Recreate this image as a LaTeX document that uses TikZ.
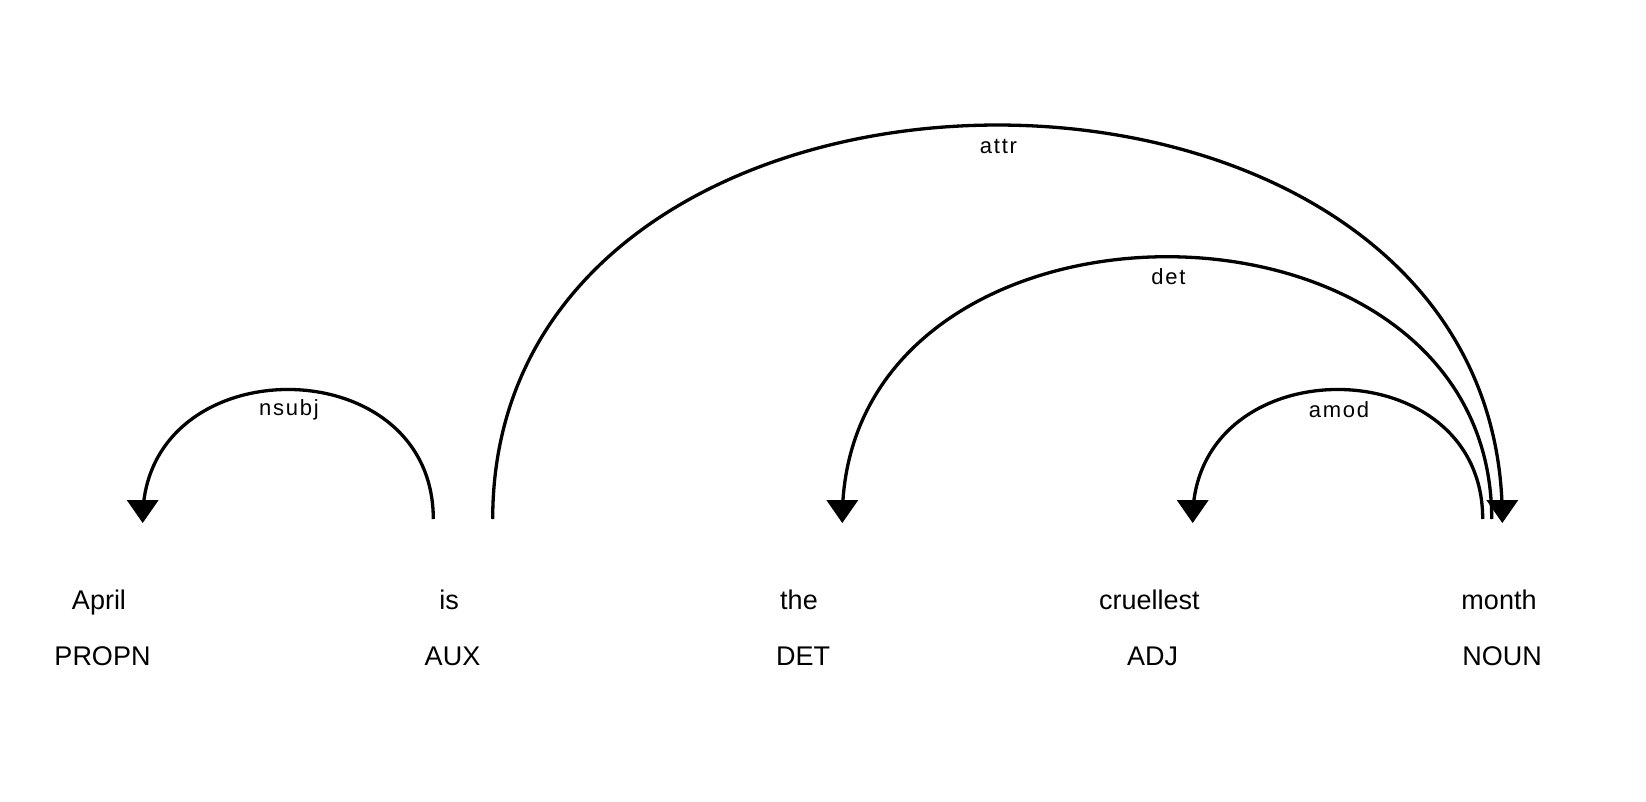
\documentclass[tikz,border=0pt]{standalone}
\usepackage{fontspec}
\setmainfont{Liberation Sans}
\newfontfamily\lblfont[LetterSpace=8]{Liberation Sans}
\usetikzlibrary{calc}
\begin{document}
\begin{tikzpicture}[x=1pt,y=-1pt,
  word/.style={anchor=base, inner sep=0pt, font=\fontsize{27}{32}\selectfont},
  lbl/.style={anchor=base, inner sep=0pt, font=\lblfont\fontsize{22}{26}\selectfont},
  arc/.style={line width=3.3pt, black},
  arrowtip/.style={fill=black}]
\useasboundingbox (0,0) rectangle (1646,802);
% words and tags
\node[word] (w1) at (99,609) {April};
\node[word] (w2) at (449,609) {is};
\node[word] (w3) at (799,609) {the};
\node[word] (w4) at (1149.4,609) {cruellest};
\node[word] (w5) at (1499,609) {month};
\node[word] (t1) at (102.5,665) {PROPN};
\node[word] (t2) at (452.5,665) {AUX};
\node[word] (t3) at (803,665) {DET};
\node[word] (t4) at (1152.6,665) {ADJ};
\node[word] (t5) at (1502,665) {NOUN};
% arc end points
\coordinate (nsubjS) at (433.3,519);
\coordinate (nsubjE) at (142.7,519);
\coordinate (attrS) at (492.7,519);
\coordinate (attrE) at (1502.3,519);
\coordinate (detS) at (1491.7,519);
\coordinate (detE) at (842.3,519);
\coordinate (amodS) at (1482.7,519);
\coordinate (amodE) at (1192.7,519);
% arcs
\draw[arc] (nsubjS) .. controls ($(nsubjS)+(0,-172.7)$) and ($(nsubjE)+(0,-172.7)$) .. (nsubjE);
\draw[arc] (attrS) .. controls ($(attrS)+(0,-525.3)$) and ($(attrE)+(0,-525.3)$) .. (attrE);
\draw[arc] (detS) .. controls ($(detS)+(0,-349.7)$) and ($(detE)+(0,-349.7)$) .. (detE);
\draw[arc] (amodS) .. controls ($(amodS)+(0,-172.7)$) and ($(amodE)+(0,-172.7)$) .. (amodE);
% arrow heads
\foreach \c in {nsubjE,attrE,detE,amodE}{
  \fill[arrowtip] ($(\c)+(-16,-19)$) -- ($(\c)+(16,-19)$) -- ($(\c)+(0,4)$) -- cycle;
}
% labels
\node[lbl] (lnsubj) at (289,415.5) {nsubj};
\node[lbl] (lattr) at (998.5,154) {attr};
\node[lbl] (ldet) at (1168.5,285) {det};
\node[lbl] (lamod) at (1339,417) {amod};
\end{tikzpicture}
\end{document}
